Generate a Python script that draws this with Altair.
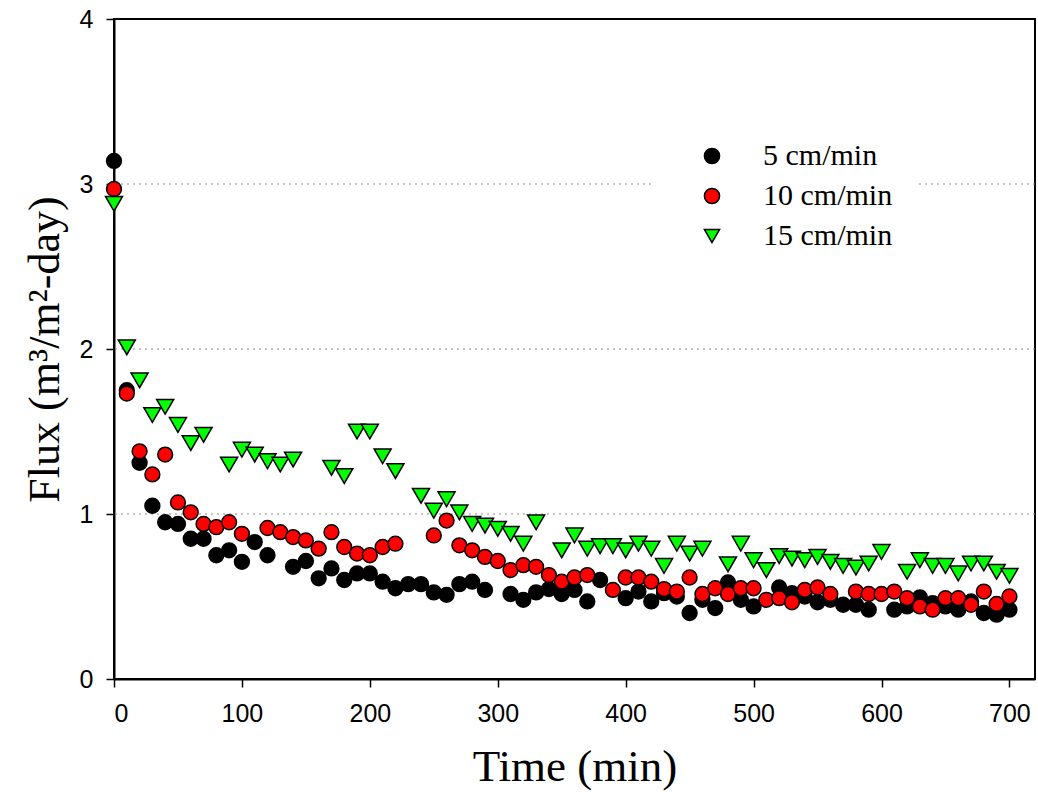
import altair as alt
import pandas as pd

# ---------------- data ----------------
time_min = list(range(0, 710, 10))

flux_5 = [3.14, 1.75, 1.31, 1.05, 0.95, 0.94, 0.85, 0.85, 0.75, 0.78,
          0.71, 0.83, 0.75, None, 0.68, 0.715, 0.61, 0.67, 0.60, 0.64,
          0.64, 0.59, 0.55, 0.575, 0.575, 0.525, 0.51, 0.575, 0.59, 0.54,
          None, 0.515, 0.48, 0.525, 0.545, 0.515, 0.54, 0.47, 0.60, None,
          0.49, 0.53, 0.47, 0.52, 0.50, 0.40, 0.48, 0.43, 0.585, 0.48,
          0.44, None, 0.555, 0.52, 0.50, 0.465, 0.48, 0.45, 0.45, 0.42,
          None, 0.42, 0.44, 0.495, 0.46, 0.44, 0.42, 0.47, 0.40, 0.39,
          0.42]

flux_10 = [2.97, 1.73, 1.38, 1.24, 1.36, 1.07, 1.01, 0.94, 0.92, 0.95,
           0.88, None, 0.915, 0.89, 0.86, 0.84, 0.79, 0.89, 0.80, 0.76,
           0.75, 0.80, 0.82, None, None, 0.87, 0.96, 0.81, 0.78, 0.74,
           0.715, 0.66, 0.69, 0.68, 0.63, 0.59, 0.615, 0.63, None, 0.54,
           0.615, 0.615, 0.59, 0.545, 0.53, 0.615, 0.515, 0.55, 0.515, 0.55,
           0.55, 0.48, 0.49, 0.465, 0.54, 0.555, 0.515, None, 0.53, 0.515,
           0.515, 0.53, 0.49, 0.44, 0.42, 0.49, 0.49, 0.45, 0.53, 0.455,
           0.50]

flux_15 = [2.88, 2.01, 1.81, 1.60, 1.65, 1.54, 1.43, 1.48, None, 1.30,
           1.39, 1.36, 1.32, 1.30, 1.33, None, None, 1.28, 1.23, 1.50,
           1.50, 1.35, 1.26, None, 1.11, 1.02, 1.09, 1.01, 0.94, 0.93,
           0.91, 0.88, 0.82, 0.95, None, 0.78, 0.87, 0.79, 0.805, 0.805,
           0.78, 0.82, 0.79, 0.685, 0.82, 0.76, 0.79, None, 0.695, 0.82,
           0.72, 0.66, 0.745, 0.73, 0.72, 0.74, 0.71, 0.685, 0.675, 0.70,
           0.77, None, 0.65, 0.72, 0.685, 0.685, 0.64, 0.70, 0.70, 0.65,
           0.625]

series_names = ["5 cm/min", "10 cm/min", "15 cm/min"]
series_colors = ["#000000", "#ff0000", "#00ff00"]
series_outline = ["#000000", "#000000", "#000000"]
series_shapes = ["circle", "circle", "triangle-down"]

x_ticks = [0, 100, 200, 300, 400, 500, 600, 700]
y_ticks = [0, 1, 2, 3, 4]
grid_values = [1, 2, 3]

# ---------------- table ----------------
rows = []
for name, vals in zip(series_names, [flux_5, flux_10, flux_15]):
    for t, v in zip(time_min, vals):
        if v is not None:
            rows.append({"Time": t, "Flux": v, "Series": name})
df = pd.DataFrame(rows)
grid_df = pd.DataFrame({"Flux": grid_values})

x_scale = alt.Scale(domain=[0, 720], nice=False, zero=False)
y_scale = alt.Scale(domain=[0, 4], nice=False)

SERIF = "Liberation Serif, Times New Roman, serif"
SANS = "Liberation Sans, Arial, sans-serif"

x_axis = alt.Axis(
    values=x_ticks,
    title="Time (min)",
    grid=False,
    labelFont=SANS,
    labelFontSize=25,
    labelColor="black",
    labelPadding=14,
    tickColor="black",
    tickSize=8,
    tickWidth=1.5,
    domainColor="black",
    domainWidth=2,
    titleFont=SERIF,
    titleFontSize=45,
    titleFontWeight="normal",
    titleColor="black",
    titlePadding=18,
)

y_axis = alt.Axis(
    values=y_ticks,
    title="Flux (m³/m²-day)",
    grid=False,
    labelFont=SANS,
    labelFontSize=25,
    labelColor="black",
    labelPadding=13,
    tickColor="black",
    tickSize=8,
    tickWidth=1.5,
    domainColor="black",
    domainWidth=2,
    titleFont=SERIF,
    titleFontSize=44,
    titleFontWeight="normal",
    titleColor="black",
    titlePadding=12,
)

grid = alt.Chart(grid_df).mark_rule(
    color="#8a8a8a", strokeDash=[2, 4], strokeWidth=1
).encode(y=alt.Y("Flux:Q", scale=y_scale, axis=y_axis))

legend = alt.Legend(
    title=None,
    orient="none",
    legendX=541,
    legendY=100,
    fillColor="white",
    padding=22,
    symbolOffset=20,
    labelOffset=36,
    labelFont=SERIF,
    labelFontSize=30,
    labelColor="black",
    symbolSize=230,
    symbolStrokeColor="black",
    symbolStrokeWidth=1.5,
    rowPadding=10,
)

points = alt.Chart(df).mark_point(
    filled=True, strokeWidth=1.5, opacity=1
).encode(
    x=alt.X("Time:Q", scale=x_scale, axis=x_axis),
    y=alt.Y("Flux:Q", scale=y_scale, axis=y_axis),
    shape=alt.Shape(
        "Series:N",
        scale=alt.Scale(domain=series_names, range=series_shapes),
        legend=legend,
    ),
    fill=alt.Fill(
        "Series:N",
        scale=alt.Scale(domain=series_names, range=series_colors),
        legend=legend,
    ),
    stroke=alt.Stroke(
        "Series:N",
        scale=alt.Scale(domain=series_names, range=series_outline),
        legend=legend,
    ),
    size=alt.condition(
        alt.datum.Series == "15 cm/min", alt.value(290), alt.value(220)
    ),
)

chart = (
    alt.layer(grid, points)
    .properties(
        width=921,
        height=660,
        autosize=alt.AutoSizeParams(type="none"),
        padding={"left": 114, "top": 19, "right": 3, "bottom": 119},
        background="white",
    )
    .configure_view(stroke="black", strokeWidth=2)
)

chart.save("out.html", embed_options={"renderer": "svg", "actions": False})
